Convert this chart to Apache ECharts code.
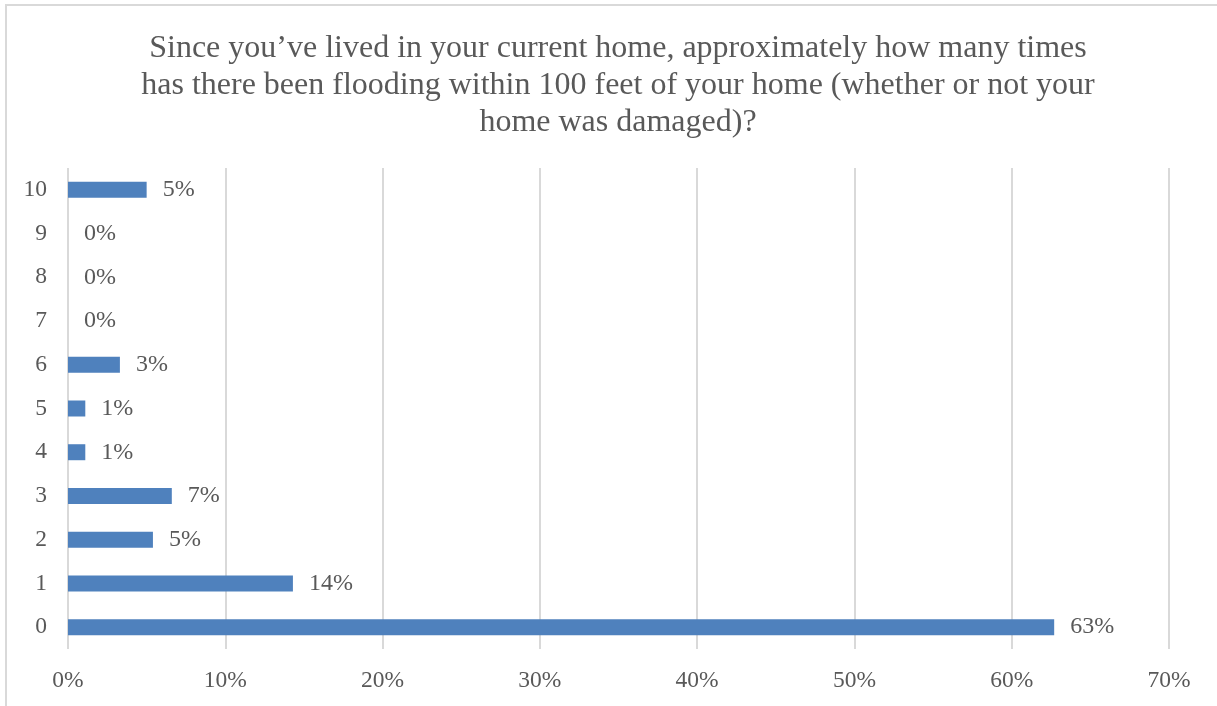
<!DOCTYPE html>
<html>
<head>
<meta charset="utf-8">
<script src="https://cdn.jsdelivr.net/npm/echarts@6/dist/echarts.min.js"></script>
<style>
  html, body { margin: 0; padding: 0; background: #ffffff; }
  #chart { width: 1217px; height: 706px; }
</style>
</head>
<body>
<div id="chart"></div>
<script>
// Number of floods within 100 feet of the home, share of respondents (%)
const categories = ['0', '1', '2', '3', '4', '5', '6', '7', '8', '9', '10'];
const shares = [62.7, 14.3, 5.4, 6.6, 1.1, 1.1, 3.3, 0, 0, 0, 5.0];
const axisTicks = [0, 10, 20, 30, 40, 50, 60, 70];
const titleLines = [
  'Since you\u2019ve lived in your current home, approximately how many times',
  'has there been flooding within 100 feet of your home (whether or not your',
  'home was damaged)?'
];

const serif = '"Liberation Serif", "Times New Roman", serif';
const textGrey = '#595959';
const gridGrey = '#d9d9d9';

const chart = echarts.init(document.getElementById('chart'), null, { renderer: 'canvas' });

chart.setOption({
  animation: false,
  backgroundColor: '#ffffff',
  graphic: [{
    type: 'rect',
    shape: { x: 6, y: 5, width: 1300, height: 800 },
    style: { fill: 'none', stroke: gridGrey, lineWidth: 2 },
    silent: true
  }],
  title: {
    text: titleLines.join('\n'),
    left: 613,
    top: 25,
    textAlign: 'center',
    textStyle: {
      fontFamily: serif,
      fontSize: 32,
      fontWeight: 'normal',
      color: textGrey,
      lineHeight: 37
    }
  },
  grid: { left: 68, right: 48, top: 168, bottom: 57, containLabel: false },
  xAxis: {
    type: 'value',
    min: axisTicks[0],
    max: axisTicks[axisTicks.length - 1],
    interval: axisTicks[1] - axisTicks[0],
    axisLine: { show: false },
    axisTick: { show: false },
    splitLine: { show: true, lineStyle: { color: gridGrey, width: 2 } },
    axisLabel: {
      formatter: v => v + '%',
      fontFamily: serif,
      fontSize: 23.5,
      color: textGrey,
      margin: 20
    }
  },
  yAxis: {
    type: 'category',
    data: categories,
    axisLine: { show: false },
    axisTick: { show: false },
    splitLine: { show: false },
    axisLabel: {
      fontFamily: serif,
      fontSize: 23.5,
      color: textGrey,
      margin: 21
    }
  },
  series: [{
    type: 'bar',
    data: shares,
    barWidth: 16,
    itemStyle: { color: '#4f81bd' },
    label: {
      show: true,
      position: 'right',
      distance: 16,
      formatter: p => Math.round(p.value) + '%',
      fontFamily: serif,
      fontSize: 24,
      color: textGrey
    }
  }]
});
</script>
</body>
</html>
